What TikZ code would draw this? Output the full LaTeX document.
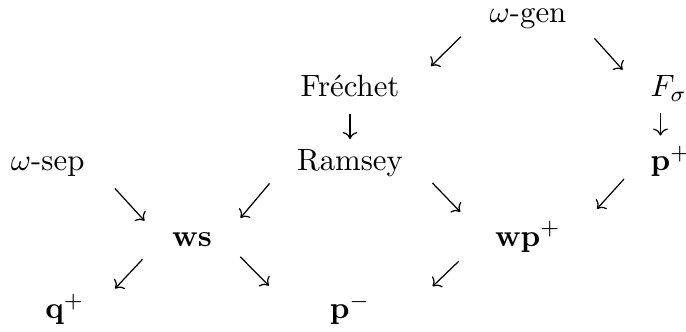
\documentclass[tikz,border=0pt]{standalone}
\usepackage{tikz}
\usetikzlibrary{arrows.meta,calc}
\tikzset{
	imp/.style args={#1 and #2}{shorten <=#1, shorten >=#2}
}

\begin{document}
\begin{tikzpicture}[->,>={Computer Modern Rightarrow[length=2.3pt,width=4.8pt]},thin,x=0.3247pt,y=-0.3247pt]
\useasboundingbox (0,0) rectangle (686,332);
\node[anchor=base] (gen) at (528,23) {$\omega$-gen};
\node[anchor=base] (fre) at (350,97) {Fr\'echet};
\node[anchor=base west] (fsig) at (639.7,97) {$F_\sigma$};
\node[anchor=base] (ram) at (350,171) {Ramsey};
\node[anchor=base west] (psig) at (639.7,171) {$\mathbf{p}^+$};
\node[anchor=base east] (sep) at (95.3,171) {$\omega$-sep};
\node[anchor=base] (ws) at (192,246) {$\mathbf{ws}$};
\node[anchor=base] (wp) at (528,246) {$\mathbf{wp}^+$};
\node[anchor=base east] (qp) at (95.3,319) {$\mathbf{q}^+$};
\node[anchor=base] (pm) at (350,319) {$\mathbf{p}^-$};

\path (gen.west) edge[imp=8.1pt and 9.4pt] (fre.east);
\path (gen.east) edge[imp=8.4pt and 8.3pt] (fsig.west);

\path (fre.south) edge[imp=1.8pt and 0pt] (ram.north);
\path ([xshift=6.75pt]fsig.south west) edge[imp=0.3pt and 0pt] ([xshift=6.75pt]psig.north west);

\path (sep.east) edge[imp=9.4pt and 8.1pt] (ws.west);
\path (ram.west) edge[imp=8.4pt and 9pt] (ws.east);
\path (ram.east) edge[imp=8.7pt and 11.2pt] (wp.west);
\path (psig.west) edge[imp=7.6pt and 12.2pt] (wp.east);

\path (ws.west) edge[imp=9pt and 9.4pt] (qp.east);
\path (ws.east) edge[imp=8.1pt and 23pt] (pm.south west);
\path (wp.west) edge[imp=11.6pt and 23.2pt] (pm.south east);
\end{tikzpicture}
\end{document}
